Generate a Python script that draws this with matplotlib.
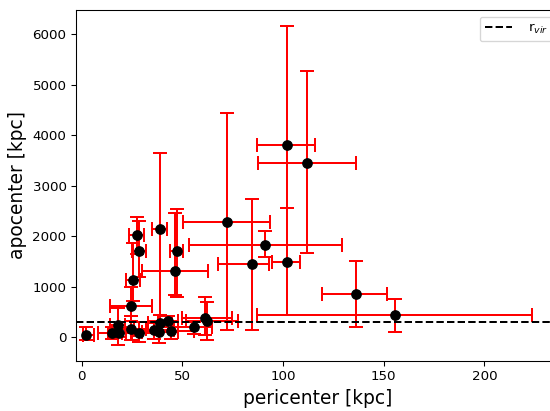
import numpy as np
import matplotlib
matplotlib.use('Agg')
import matplotlib.pyplot as plt

# satellite orbits: pericenter / apocenter with lower and upper bounds [kpc]
peri = np.array([2.2, 14.9, 18.7, 17.9, 24.5, 25.6, 27.3, 28.5, 24.5, 28.6,
                 39.2, 47.2, 46.6, 35.9, 38.5, 38.9, 43.0, 44.3, 55.9, 61.3,
                 62.4, 72.3, 84.7, 91.1, 101.9, 101.9, 111.7, 136.3, 155.8])
peri_lo = np.array([0.5, 8.0, 13.0, 14.1, 14.1, 22.0, 23.5, 25.0, 17.0, 20.0,
                    34.8, 43.8, 29.8, 26.0, 30.0, 33.0, 38.0, 36.0, 46.0, 50.0,
                    52.0, 50.5, 67.8, 53.3, 87.3, 94.5, 87.4, 119.4, 86.9])
peri_hi = np.array([6.0, 22.0, 25.0, 21.5, 34.8, 29.0, 31.0, 32.0, 32.0, 36.0,
                    42.5, 50.4, 62.6, 46.0, 48.0, 45.0, 48.0, 56.0, 65.0, 74.5,
                    77.8, 93.8, 93.0, 129.4, 116.0, 108.5, 136.2, 151.7, 223.7])

apo = np.array([50, 79, 91, 243, 618, 1132, 2021, 1705, 158, 91,
                2153, 1705, 1310, 144, 111, 289, 328, 130, 198, 375,
                328, 2272, 1442, 1824, 3800, 1490, 3458, 850, 435])
apo_lo = np.array([-50, -30, 0, -152, 320, 720, 1650, 1200, -50, -100,
                   200, 800, 836, -30, -110, 100, 150, -40, 60, 45,
                   -53, 140, 144, 1593, 2550, 440, 1660, 198, 111])
apo_hi = np.array([210, 200, 180, 573, 1000, 1860, 2383, 2300, 420, 300,
                   3640, 2530, 2450, 330, 280, 450, 430, 330, 300, 802,
                   703, 4430, 2733, 2106, 6160, 2550, 5268, 1508, 757])

r_vir = 300

fig = plt.figure(figsize=(550 / 96, 411 / 96), dpi=96)
# right edge of the axes sits just outside the image, as in the original crop
ax = fig.add_axes([0.138, 0.1217, 0.88, 0.854])

ax.errorbar(peri, apo,
            xerr=[peri - peri_lo, peri_hi - peri],
            yerr=[apo - apo_lo, apo_hi - apo],
            fmt='o', color='black', ms=7, ecolor='red', elinewidth=1.5,
            capsize=5, capthick=1.5)
ax.axhline(r_vir, color='black', ls='--', lw=1.5, label='r$_{vir}$')

ax.set_xlim(-2.8, 237.5)
ax.set_xlabel('pericenter [kpc]', fontsize=14)
ax.set_ylabel('apocenter [kpc]', fontsize=14)
ax.tick_params(labelsize=10)
ax.legend(loc='upper right', handletextpad=1.2)

fig.savefig('out.png', dpi=96)
